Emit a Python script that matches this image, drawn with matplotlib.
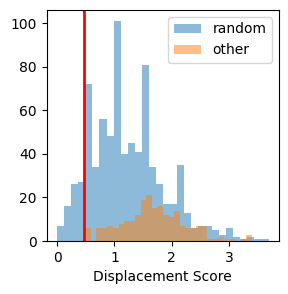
import numpy as np
import matplotlib
matplotlib.use('Agg')
import matplotlib.pyplot as plt

# histogram counts (30 bins each)
random_counts = [7, 16, 26, 27, 72, 34, 56, 48, 101, 40, 45, 41, 81, 34, 26,
                 17, 17, 35, 13, 6, 7, 7, 5, 3, 6, 2, 1, 2, 1, 1]
random_range = (0.0, 3.69)

other_counts = [6, 0, 6, 6, 7, 6, 8, 9, 9, 12, 19, 21, 15, 16, 12,
                11, 14, 7, 6, 6, 7, 7, 1, 1, 2, 1, 1, 0, 1, 3]
other_range = (0.49, 3.40)

threshold = 0.475

fig = plt.figure(figsize=(2.88, 2.94), dpi=100)
ax = fig.add_axes([0.162, 0.180, 0.807, 0.786])

edges_r = np.linspace(*random_range, len(random_counts) + 1)
edges_o = np.linspace(*other_range, len(other_counts) + 1)

ax.hist(edges_r[:-1], bins=edges_r, weights=random_counts, alpha=0.5, label='random')
ax.hist(edges_o[:-1], bins=edges_o, weights=other_counts, alpha=0.5, label='other')
ax.axvline(threshold, color='red', lw=2)

ax.set_xlabel('Displacement Score')
ax.legend()

fig.savefig('out.png', dpi=100)
